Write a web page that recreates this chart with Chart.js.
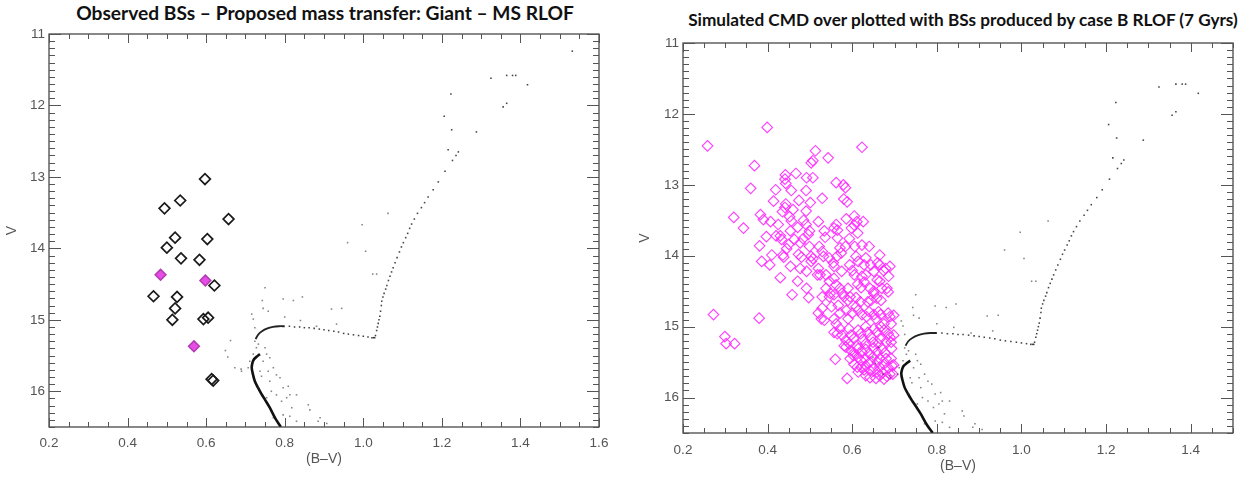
<!DOCTYPE html>
<html>
<head>
<meta charset="utf-8">
<script src="https://cdn.jsdelivr.net/npm/chart.js@4.4.1/dist/chart.umd.min.js"></script>
<style>
  html,body{margin:0;padding:0;background:#fff;}
  body{width:1242px;height:477px;position:relative;overflow:hidden;}
  .box{position:absolute;}
  .ttl{position:absolute;text-align:center;white-space:nowrap;color:#111;font-family:Lato,"Open Sans",sans-serif;font-weight:700;}
</style>
</head>
<body>
<div class="ttl" id="t1" style="left:0;top:0;width:650px;line-height:25px;font-size:19.2px;">Observed BSs – Proposed mass transfer: Giant – MS RLOF</div>
<div class="ttl" id="t2" style="left:663px;top:8px;width:600px;line-height:24px;font-size:17.2px;">Simulated CMD over plotted with BSs produced by case B RLOF (7 Gyrs)</div>
<div class="box" style="left:0;top:0;width:620px;height:477px;"><canvas id="c1" width="620" height="477"></canvas></div>
<div class="box" style="left:620px;top:0;width:622px;height:477px;"><canvas id="c2" width="622" height="477"></canvas></div>
<script>
// ---------- tick labels ----------
const xTicksLeft = [0.2, 0.4, 0.6, 0.8, 1.0, 1.2, 1.4, 1.6];
const xTicksRight = [0.2, 0.4, 0.6, 0.8, 1.0, 1.2, 1.4];
const yTicks = [11, 12, 13, 14, 15, 16];

// ---------- observed blue stragglers (left panel) ----------
const observedBS = [
  [0.597,13.03],[0.534,13.33],[0.494,13.44],[0.657,13.59],[0.521,13.85],[0.603,13.87],
  [0.500,13.99],[0.536,14.14],[0.583,14.16],[0.621,14.52],[0.466,14.67],[0.526,14.68],
  [0.521,14.84],[0.514,15.00],[0.593,14.99],[0.605,14.97],[0.614,15.83],[0.618,15.85]
];
const observedBSMarked = [[0.484,14.37],[0.598,14.45],[0.569,15.37]];

// ---------- simulated BSs (right panel) ----------
const simulatedBS = [
  [0.258,12.45],[0.399,12.19],[0.623,12.47],[0.369,12.73],[0.513,12.52],[0.507,12.66],[0.503,12.69],[0.543,12.62],
  [0.320,13.46],[0.343,13.61],[0.360,13.05],[0.383,13.42],[0.390,13.49],[0.381,13.86],[0.386,14.08],[0.405,14.13],
  [0.430,14.31],[0.272,14.83],[0.380,14.88],[0.299,15.14],[0.302,15.24],[0.322,15.24],[0.560,15.46],[0.588,15.73],
  [0.458,14.55],[0.442,12.86],[0.467,12.84],[0.492,12.90],[0.507,12.90],[0.419,13.07],[0.441,12.92],[0.443,12.98],
  [0.456,13.08],[0.491,13.08],[0.562,12.97],[0.579,13.00],[0.584,13.04],[0.529,13.19],[0.501,13.25],[0.474,13.22],
  [0.580,13.20],[0.588,13.24],[0.414,13.23],[0.443,13.27],[0.441,13.32],[0.460,13.35],[0.491,13.37],[0.435,13.38],
  [0.407,13.52],[0.425,13.56],[0.452,13.45],[0.456,13.51],[0.454,13.65],[0.471,13.60],[0.485,13.50],[0.491,13.56],
  [0.499,13.65],[0.484,13.76],[0.496,13.70],[0.520,13.52],[0.534,13.65],[0.536,13.74],[0.557,13.61],[0.562,13.56],
  [0.565,13.64],[0.565,13.75],[0.586,13.48],[0.605,13.44],[0.611,13.52],[0.626,13.52],[0.598,13.61],[0.605,13.57],
  [0.613,13.68],[0.593,13.76],[0.397,13.73],[0.420,13.72],[0.430,13.72],[0.433,13.77],[0.450,13.84],[0.445,13.90],
  [0.436,13.99],[0.438,14.02],[0.410,13.99],[0.499,13.87],[0.522,13.87],[0.529,13.94],[0.473,13.98],[0.480,14.02],
  [0.503,14.01],[0.507,14.04],[0.492,14.22],[0.471,14.36],[0.492,14.46],[0.497,14.59],[0.520,14.18],[0.532,14.01],
  [0.518,14.27],[0.524,14.27],[0.545,14.03],[0.555,14.10],[0.557,14.15],[0.564,14.01],[0.574,13.96],[0.584,13.87],
  [0.571,13.89],[0.538,14.27],[0.546,14.36],[0.557,14.32],[0.562,14.41],[0.575,14.22],[0.594,14.13],[0.600,14.21],
  [0.609,14.01],[0.614,14.08],[0.606,13.87],[0.623,13.85],[0.640,13.87],[0.665,13.99],[0.660,14.10],[0.665,14.13],
  [0.674,14.21],[0.679,14.18],[0.689,14.15],[0.686,14.29],[0.665,14.36],[0.670,14.46],[0.651,14.53],[0.623,14.29],
  [0.628,14.37],[0.613,14.40],[0.621,14.45],[0.632,14.27],[0.642,14.46],[0.548,14.53],[0.557,14.55],[0.576,14.53],
  [0.581,14.58],[0.529,14.58],[0.567,14.70],[0.551,14.72],[0.590,14.63],[0.595,14.58],[0.609,14.59],[0.619,14.65],
  [0.637,14.65],[0.644,14.63],[0.658,14.60],[0.668,14.63],[0.682,14.46],[0.685,14.51],[0.662,14.79],[0.667,14.83],
  [0.685,14.81],[0.689,14.86],[0.698,14.84],[0.692,14.96],[0.675,14.96],[0.656,14.89],[0.651,14.83],[0.640,14.79],
  [0.634,14.86],[0.623,14.83],[0.609,14.72],[0.614,14.77],[0.600,14.81],[0.590,14.89],[0.586,14.77],[0.571,14.81],
  [0.557,14.89],[0.520,14.81],[0.527,14.89],[0.534,14.91],[0.562,14.96],[0.557,15.08],[0.565,15.10],[0.571,15.03],
  [0.592,15.03],[0.576,15.12],[0.597,15.12],[0.604,15.17],[0.614,15.05],[0.620,15.10],[0.632,15.00],[0.637,15.08],
  [0.651,15.03],[0.659,15.08],[0.668,15.00],[0.675,15.05],[0.685,15.10],[0.689,15.15],[0.698,15.12],[0.680,15.21],
  [0.692,15.22],[0.666,15.17],[0.661,15.24],[0.644,15.15],[0.649,15.22],[0.625,15.18],[0.632,15.24],[0.609,15.27],
  [0.593,15.24],[0.585,15.29],[0.597,15.34],[0.604,15.37],[0.614,15.31],[0.623,15.36],[0.632,15.32],[0.640,15.38],
  [0.651,15.30],[0.659,15.36],[0.670,15.31],[0.677,15.37],[0.693,15.31],[0.614,15.43],[0.621,15.48],[0.630,15.45],
  [0.642,15.50],[0.649,15.43],[0.659,15.50],[0.665,15.45],[0.675,15.53],[0.680,15.45],[0.692,15.45],[0.698,15.54],
  [0.604,15.53],[0.612,15.57],[0.621,15.57],[0.628,15.61],[0.632,15.55],[0.642,15.62],[0.651,15.58],[0.659,15.64],
  [0.665,15.57],[0.672,15.65],[0.685,15.58],[0.689,15.67],[0.614,15.64],[0.632,15.69],[0.642,15.72],[0.656,15.73],
  [0.665,15.69],[0.675,15.74],[0.682,15.70],[0.696,15.67],[0.694,15.55],[0.595,15.45],[0.603,15.41],[0.585,15.19],
  [0.581,15.27],[0.463,13.77],[0.477,13.82],[0.454,14.15],[0.477,14.18],[0.503,14.08],[0.538,14.46],[0.546,14.58],
  [0.529,14.74],[0.571,14.46],[0.590,14.46],[0.605,14.27],[0.651,14.22],[0.659,14.34],[0.628,14.13],[0.632,14.03],
  [0.644,14.13],[0.651,14.50]
];

// ---------- simulated cluster CMD (both panels) ----------
const msRidge = [
  [0.790,16.50],[0.776,16.38],[0.762,16.23],[0.750,16.12],[0.741,16.04],[0.732,15.95],[0.724,15.86],
  [0.719,15.76],[0.716,15.67],[0.718,15.60],[0.722,15.55],[0.730,15.51],[0.737,15.48]
];
const sgbRidge = [
  [0.726,15.27],[0.732,15.21],[0.742,15.16],[0.756,15.12],[0.770,15.10],[0.785,15.09],[0.800,15.09]
];
const sgbDots = [
  [0.812,15.09],[0.825,15.10],[0.838,15.10],[0.850,15.11],[0.862,15.11],[0.875,15.12],[0.888,15.13],
  [0.900,15.14],[0.912,15.15],[0.925,15.16],[0.937,15.17],[0.950,15.19],[0.962,15.20],[0.975,15.21],
  [0.988,15.22],[1.000,15.23],[1.012,15.24],[1.022,15.25],[1.026,15.25]
];
const rgbDots = [
  [1.029,15.25],[1.031,15.22],[1.034,15.15],[1.036,15.10],[1.038,15.05],[1.040,15.00],[1.042,14.95],
  [1.044,14.88],[1.046,14.80],[1.047,14.74],[1.050,14.68],[1.053,14.63],[1.057,14.57],[1.060,14.52],
  [1.064,14.45],[1.068,14.39],[1.072,14.33],[1.076,14.27],[1.081,14.20],[1.086,14.13],[1.092,14.05],
  [1.097,13.98],[1.102,13.92],[1.108,13.85],[1.113,13.79],[1.118,13.72],[1.123,13.66],[1.130,13.59],
  [1.138,13.51],[1.148,13.43],[1.156,13.36],[1.165,13.28],[1.178,13.18],[1.191,13.07],[1.208,12.92],
  [1.227,12.77],[1.236,12.70],[1.242,12.65],[1.216,12.62],[1.225,12.34],[1.206,12.15],[1.223,11.84],
  [1.288,12.37],[1.325,11.62],[1.365,11.58],[1.380,11.58],[1.388,11.58],[1.418,11.71],[1.356,12.02],
  [1.365,11.97],[1.532,11.24]
];
const scatterDots = [
  [0.750,14.55],[0.743,14.73],[0.796,14.71],[0.822,14.73],[0.845,14.68],[0.758,14.88],[0.745,14.84],
  [0.720,14.99],[0.716,14.92],[0.724,15.11],[0.800,14.96],[0.840,15.01],[0.919,14.85],[0.945,14.84],
  [0.932,15.06],[0.881,15.09],[1.063,13.51],[0.997,13.67],[0.960,13.92],[1.006,14.04],[1.024,14.36],
  [1.034,14.36],[0.662,15.29],[0.649,15.43],[0.655,15.52],[0.673,15.67],[0.689,15.69],[0.690,15.72],
  [0.750,15.39],[0.754,15.48],[0.745,15.58],[0.762,15.53],[0.771,15.67],[0.779,15.77],[0.762,15.86],
  [0.788,15.81],[0.796,15.95],[0.809,15.93],[0.813,16.05],[0.830,16.05],[0.805,16.09],[0.792,16.14],
  [0.818,16.23],[0.860,16.19],[0.864,16.26],[0.890,16.37],[0.907,16.45],[0.885,16.42],[0.796,16.33],
  [0.771,16.37],[0.830,16.42],[0.813,16.35],[0.737,15.72],[0.733,15.95],[0.754,16.09],[0.779,16.05],
  [0.741,15.79],[0.766,16.00],[0.758,15.72],[0.724,15.30],[0.728,15.39],[0.720,15.48],[0.733,15.34],
  [0.711,15.58],[0.707,15.67]
];

const pts = a => a.map(p => ({x: p[0], y: p[1]}));

// frame + inward ticks on all four sides (positions from the library's scales)
const framePlugin = {
  id: 'frame',
  afterDraw(chart, args, o) {
    const {ctx, chartArea: ca, scales: {x, y}} = chart;
    ctx.save();
    ctx.strokeStyle = '#3a3a3a';
    ctx.lineWidth = 1.2;
    ctx.strokeRect(ca.left, ca.top, ca.right - ca.left, ca.bottom - ca.top);
    ctx.lineWidth = 1;
    ctx.strokeStyle = '#555';
    ctx.beginPath();
    const nx = Math.round((x.max - x.min) / o.xMinor);
    for (let i = 0; i <= nx; i++) {
      const v = x.min + i * o.xMinor;
      const major = Math.abs(v / 0.2 - Math.round(v / 0.2)) < 1e-6;
      const len = major ? o.xMajLen : o.xMinLen;
      const px = Math.round(x.getPixelForValue(v)) + 0.5;
      ctx.moveTo(px, ca.bottom); ctx.lineTo(px, ca.bottom - len);
      ctx.moveTo(px, ca.top); ctx.lineTo(px, ca.top + len);
    }
    const ny = Math.round((y.max - y.min) / o.yMinor);
    for (let i = 0; i <= ny; i++) {
      const v = y.min + i * o.yMinor;
      const major = Math.abs(v - Math.round(v)) < 1e-6;
      const len = major ? o.yMajLen : o.yMinLen;
      const py = Math.round(y.getPixelForValue(v)) + 0.5;
      ctx.moveTo(ca.left, py); ctx.lineTo(ca.left + len, py);
      ctx.moveTo(ca.right, py); ctx.lineTo(ca.right - len, py);
    }
    ctx.stroke();
    ctx.restore();
  }
};

const tickFont = {family: '"Liberation Sans", Arial, sans-serif', size: 13.5};
const tickColor = '#555';

function cmdDatasets() {
  return [
    {data: pts(scatterDots), pointStyle: 'rect', pointRadius: 1.1, backgroundColor: 'rgba(50,50,50,0.6)', borderWidth: 0},
    {data: pts(sgbDots), pointStyle: 'rect', pointRadius: 1.1, backgroundColor: 'rgba(20,20,20,0.8)', borderWidth: 0},
    {data: pts(rgbDots), pointStyle: 'rect', pointRadius: 1.1, backgroundColor: 'rgba(20,20,20,0.8)', borderWidth: 0},
    {data: pts(msRidge), showLine: true, borderColor: '#111', borderWidth: 2.6, pointRadius: 0, tension: 0.3, fill: false},
    {data: pts(sgbRidge), showLine: true, borderColor: '#222', borderWidth: 1.8, pointRadius: 0, tension: 0.3, fill: false}
  ];
}

function makeOptions(cfg) {
  return {
    responsive: false,
    animation: false,
    events: [],
    layout: {padding: cfg.padding},
    plugins: {
      legend: {display: false},
      tooltip: {enabled: false},
      frame: cfg.frame
    },
    scales: {
      x: {
        type: 'linear', min: 0.2, max: cfg.xMax,
        grid: {display: false, drawTicks: false}, border: {display: false},
        afterBuildTicks: s => { s.ticks = cfg.xTicks.map(v => ({value: v})); },
        afterFit: s => { s.height = cfg.xAxisH; },
        ticks: {font: tickFont, color: tickColor, padding: cfg.xTickPad, maxRotation: 0, autoSkip: false,
                callback: v => Number(v).toFixed(1)},
        title: {display: true, text: '(B–V)', color: '#555', font: {family: tickFont.family, size: 14},
                padding: {top: 0, bottom: cfg.xTitlePad}}
      },
      y: {
        type: 'linear', min: 11, max: 16.5, reverse: true,
        grid: {display: false, drawTicks: false}, border: {display: false},
        afterBuildTicks: s => { s.ticks = yTicks.map(v => ({value: v})); },
        afterFit: s => { s.width = cfg.yAxisW; },
        ticks: {font: tickFont, color: tickColor, padding: 4, autoSkip: false, callback: v => String(v)},
        title: {display: true, text: 'V', color: '#555', font: {family: tickFont.family, size: 14},
                padding: {top: cfg.yTitlePad, bottom: 0}}
      }
    }
  };
}

const frameOpts = {xMinor: 0.05, yMinor: 0.1, xMajLen: 9, xMinLen: 5, yMajLen: 12, yMinLen: 6};

new Chart(document.getElementById('c1'), {
  type: 'scatter',
  data: {
    datasets: cmdDatasets().concat([
      {data: pts(observedBS), pointStyle: 'rectRot', pointRadius: 5.4, borderColor: '#1a1a1a', borderWidth: 1.7, backgroundColor: 'rgba(255,255,255,0)'},
      {data: pts(observedBSMarked), pointStyle: 'rectRot', pointRadius: 5.4, borderColor: '#b23bb2', borderWidth: 1.5, backgroundColor: '#e54de5'}
    ])
  },
  options: makeOptions({
    padding: {top: 34, right: 21, left: 0, bottom: 0},
    xMax: 1.6, xTicks: xTicksLeft, xAxisH: 50, yAxisW: 49,
    xTickPad: 8, xTitlePad: 9, yTitlePad: 4, frame: frameOpts
  }),
  plugins: [framePlugin]
});

new Chart(document.getElementById('c2'), {
  type: 'scatter',
  data: {
    datasets: cmdDatasets().concat([
      {data: pts(simulatedBS), pointStyle: 'rectRot', pointRadius: 5.3, borderColor: 'rgba(255,40,255,0.9)', borderWidth: 1.1, backgroundColor: 'rgba(255,255,255,0)'}
    ])
  },
  options: makeOptions({
    padding: {top: 43, right: 9, left: 0, bottom: 0},
    xMax: 1.5, xTicks: xTicksRight, xAxisH: 44, yAxisW: 63,
    xTickPad: 9, xTitlePad: 2, yTitlePad: 17, frame: frameOpts
  }),
  plugins: [framePlugin]
});
</script>
</body>
</html>
